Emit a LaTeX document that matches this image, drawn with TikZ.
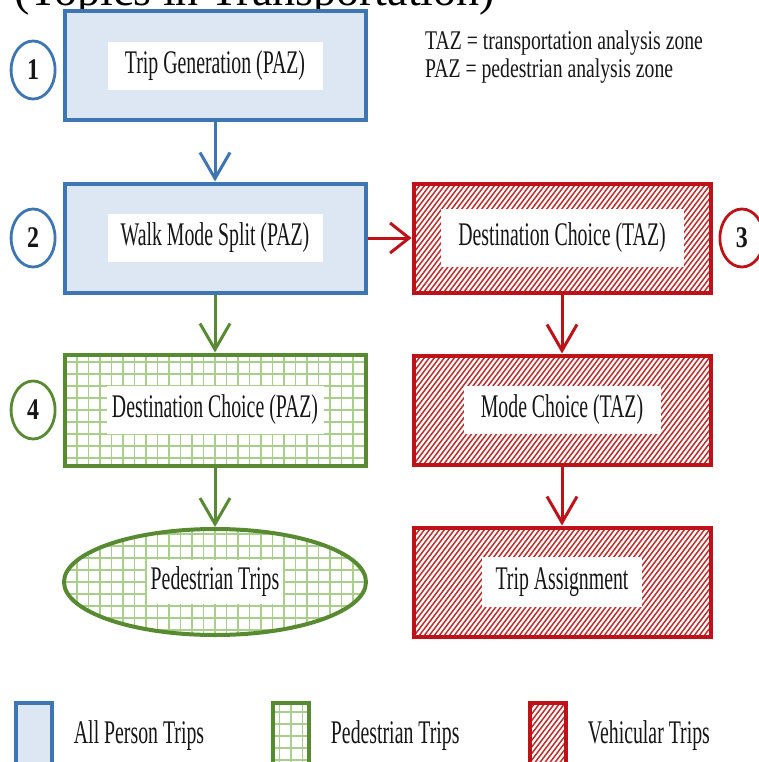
\documentclass[tikz,border=0pt]{standalone}
\usepackage{fontspec}
\setmainfont{Liberation Serif}
\newfontfamily\narrowserif[FakeStretch=0.6]{Liberation Serif}
\newfontfamily\noteserif[FakeStretch=0.73]{Liberation Serif}
\newfontfamily\numserif[FakeStretch=0.8,BoldFont={Liberation Serif Bold}]{Liberation Serif}
\usetikzlibrary{arrows.meta,positioning,shapes.geometric}

\definecolor{bluedraw}{RGB}{61,118,178}
\definecolor{bluefill}{RGB}{221,231,243}
\definecolor{greendraw}{RGB}{88,138,50}
\definecolor{gridgreen}{RGB}{170,206,140}
\definecolor{reddraw}{RGB}{190,18,24}
\definecolor{hatchred}{RGB}{192,45,45}
\definecolor{inkgray}{RGB}{22,22,22}

\newcommand{\boxfont}{\narrowserif\fontsize{33}{36}\selectfont}
\newcommand{\notefont}{\noteserif\fontsize{27}{30}\selectfont}

\begin{document}
\begin{tikzpicture}[x=1pt,y=1pt,node distance=172pt,text=inkgray,
    flow/.style={line width=3pt,-{Straight Barb[length=26pt,width=30pt]}},
    main box/.style={rectangle,draw,line width=4pt,minimum width=301pt,minimum height=109pt},
    person box/.style={main box,draw=bluedraw,fill=bluefill},
    walk box/.style={main box,draw=greendraw,fill=white,gridded},
    car box/.style={main box,draw=reddraw,fill=white,hatched,minimum width=297pt},
    gridded/.style={path picture={\draw[gridgreen,line width=1.3pt] (path picture bounding box.south west) grid[xstep=11.5pt,ystep=12pt] (path picture bounding box.north east);}},
    hatched/.style={path picture={\foreach \k in {0,...,100} \draw[hatchred,line width=1.5pt] ([xshift=\k*5pt-170pt]path picture bounding box.south west) -- ++(125,165);}},
    tag/.style={fill=white,inner sep=0pt,minimum height=48pt,font=\boxfont},
    num node/.style={ellipse,draw,line width=2.8pt,minimum width=44pt,minimum height=58pt,inner sep=0pt,font=\numserif\bfseries\fontsize{30}{32}\selectfont},
    legend key/.style={rectangle,line width=3.5pt,minimum width=36pt,minimum height=66pt},
    legend text/.style={inner sep=0pt,font=\boxfont}]

  \useasboundingbox (0,0) rectangle (759,-762);
  \clip (0,0) rectangle (759,-762);

  \node[anchor=base west,inner sep=0pt,text=black,font=\fontsize{46}{50}\selectfont] (title) at (14,-6) {(Topics in Transportation)};

  % left column
  \node[person box] (gen) at (215,-66) {};
  \node[person box,below of=gen] (walk) {};
  \node[walk box,below of=walk,minimum height=111pt] (dpaz) {};
  \node[ellipse,draw=greendraw,line width=4pt,fill=white,gridded,minimum width=302pt,minimum height=106pt,below of=dpaz] (ped) {};

  % right column
  \node[car box,node distance=347pt,right of=walk] (dtaz) {};
  \node[car box,below of=dtaz] (mode) {};
  \node[car box,below of=mode] (assign) {};

  \node[tag,minimum width=215pt] (gen tag) at (gen) {Trip Generation (PAZ)};
  \node[tag,minimum width=215pt] (walk tag) at (walk) {Walk Mode Split (PAZ)};
  \node[tag,minimum width=217pt] (dpaz tag) at (dpaz) {Destination Choice (PAZ)};
  \node[tag,minimum width=136pt,minimum height=44pt] (ped tag) at (ped) {Pedestrian Trips};
  \node[tag,minimum width=243pt,minimum height=58pt] (dtaz tag) at (dtaz) {Destination Choice (TAZ)};
  \node[tag,minimum width=197pt] (mode tag) at (mode) {Mode Choice (TAZ)};
  \node[tag,minimum width=160pt,minimum height=50pt] (assign tag) at (assign) {Trip Assignment};

  \node[num node,draw=bluedraw,left=6pt of gen,yshift=-4pt] (n1) {1};
  \node[num node,draw=bluedraw,left=6pt of walk] (n2) {2};
  \node[num node,draw=reddraw,right=6pt of dtaz] (n3) {3};
  \node[num node,draw=greendraw,left=6pt of dpaz] (n4) {4};

  \node[anchor=base west,inner sep=0pt,font=\notefont] (taz) at (425,-50) {TAZ = transportation analysis zone};
  \node[anchor=base west,inner sep=0pt,font=\notefont] (paz) at ([yshift=-28pt]taz.base west) {PAZ = pedestrian analysis zone};

  \draw[flow,bluedraw] (gen) -- (walk);
  \draw[flow,greendraw] (walk) -- (dpaz);
  \draw[flow,greendraw] (dpaz) -- (ped);
  \draw[flow,reddraw,-{Straight Barb[length=19pt,width=30pt]}] (walk) -- (dtaz);
  \draw[flow,reddraw] (dtaz) -- (mode);
  \draw[flow,reddraw] (mode) -- (assign);

  % legend
  \node[legend key,draw=bluedraw,fill=bluefill] (key1) at (34,-736) {};
  \node[legend key,draw=greendraw,fill=white,gridded,node distance=257pt,right of=key1] (key2) {};
  \node[legend key,draw=reddraw,fill=white,hatched,node distance=257pt,right of=key2] (key3) {};
  \node[legend text,right=20pt of key1] (key1 text) {All Person Trips};
  \node[legend text,right=20pt of key2] (key2 text) {Pedestrian Trips};
  \node[legend text,right=20pt of key3] (key3 text) {Vehicular Trips};
\end{tikzpicture}
\end{document}
